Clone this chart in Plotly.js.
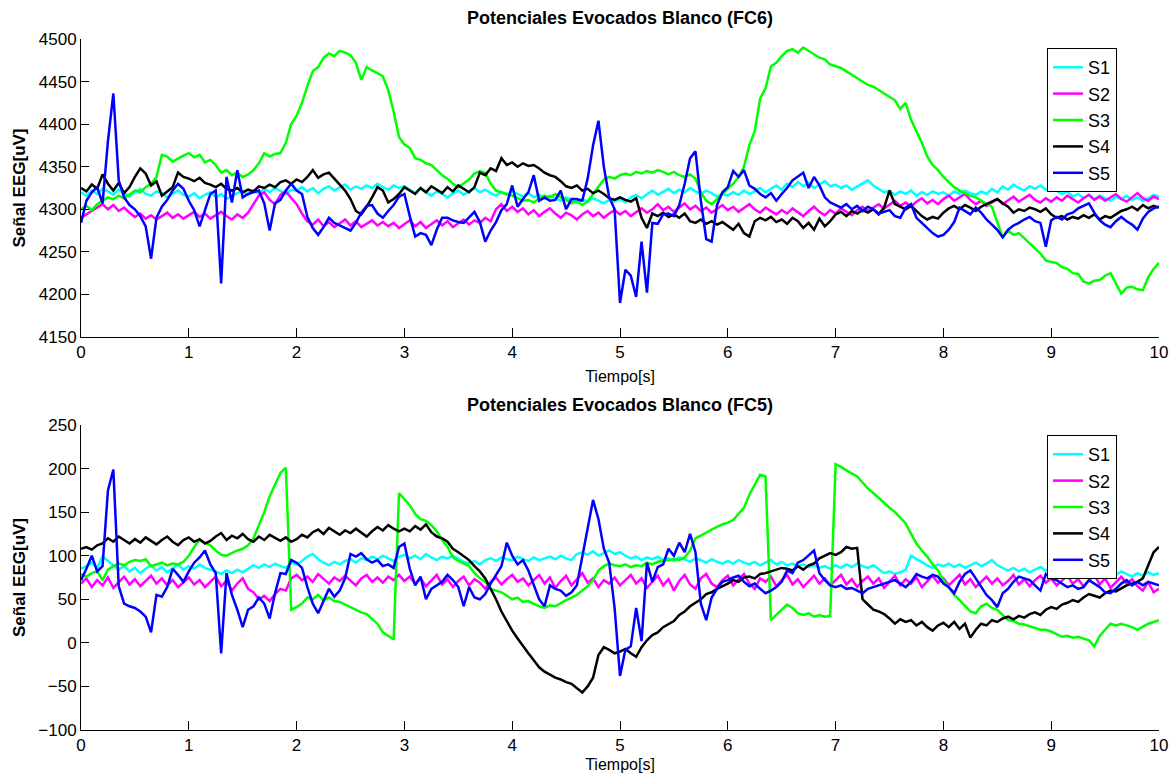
<!DOCTYPE html>
<html><head><meta charset="utf-8">
<script src="https://cdn.plot.ly/plotly-3.0.1.min.js"></script>
<style>html,body{margin:0;padding:0;background:#fff}#chart{width:1175px;height:782px}</style>
</head><body><div id="chart"></div>
<script>
const seriesNames = ['S1','S2','S3','S4','S5'];
const seriesColors = ['#00ffff','#ff00ff','#00ff00','#000000','#0000ff'];
const dt = 0.05; // sampling step of the stored series [s]
const xTicks = [0,1,2,3,4,5,6,7,8,9,10];
const fc6Ticks = [4150,4200,4250,4300,4350,4400,4450,4500];
const fc5Ticks = [-100,-50,0,50,100,150,200,250];
const titleFC6 = 'Potenciales Evocados Blanco (FC6)';
const titleFC5 = 'Potenciales Evocados Blanco (FC5)';
const xTitle = 'Tiempo[s]';
const yTitle = 'Señal EEG[uV]';

// ---- FC6 (top) ----
const fc6_S1 = [
4320,4316,4322,4318,4324,4321,4317,4323,4319,4315,4320,4324,4318,4316,4321,4319,4314,4318,4322,4317,
4315,4319,4313,4317,4320,4314,4318,4312,4316,4319,4321,4317,4322,4319,4324,4320,4325,4321,4318,4323,
4322,4326,4321,4325,4319,4324,4327,4322,4326,4329,4323,4327,4324,4328,4325,4330,4326,4323,4328,4325,
4327,4323,4319,4324,4320,4316,4321,4318,4314,4319,4322,4317,4321,4325,4320,4323,4319,4316,4320,4317,
4321,4318,4315,4319,4314,4317,4312,4316,4313,4310,4314,4311,4308,4312,4309,4313,4310,4307,4311,4309,
4312,4308,4314,4317,4313,4318,4322,4317,4321,4324,4319,4323,4320,4325,4321,4318,4322,4319,4315,4318,
4316,4320,4317,4322,4318,4321,4325,4320,4324,4328,4323,4330,4326,4332,4327,4331,4325,4329,4333,4327,
4329,4325,4328,4323,4327,4331,4334,4328,4324,4320,4322,4317,4321,4318,4322,4316,4320,4317,4321,4318,
4320,4316,4321,4318,4322,4319,4317,4321,4318,4324,4320,4327,4323,4329,4325,4322,4327,4324,4328,4323,
4326,4322,4318,4321,4315,4318,4313,4317,4312,4316,4313,4310,4315,4312,4316,4311,4314,4310,4313,4317,
4315];
const fc6_S2 = [
4290,4294,4298,4302,4306,4300,4305,4298,4302,4296,4291,4295,4289,4293,4288,4292,4296,4290,4294,4289,
4293,4297,4291,4295,4289,4293,4297,4292,4288,4294,4290,4296,4306,4316,4320,4311,4306,4317,4321,4314,
4306,4295,4286,4282,4288,4280,4285,4279,4284,4288,4281,4286,4279,4283,4287,4281,4285,4280,4284,4278,
4283,4287,4280,4285,4278,4283,4287,4281,4286,4279,4284,4288,4282,4287,4284,4290,4286,4300,4306,4298,
4303,4297,4301,4294,4299,4292,4297,4301,4295,4290,4296,4293,4288,4294,4298,4292,4296,4290,4295,4299,
4294,4298,4292,4297,4301,4296,4300,4306,4299,4303,4297,4302,4307,4300,4304,4298,4302,4296,4300,4305,
4299,4303,4297,4301,4306,4300,4296,4302,4298,4294,4299,4295,4301,4297,4292,4298,4303,4297,4293,4299,
4295,4301,4297,4293,4299,4303,4298,4302,4306,4301,4305,4310,4304,4308,4303,4309,4313,4307,4311,4306,
4312,4316,4310,4314,4318,4311,4306,4310,4304,4308,4312,4306,4310,4315,4309,4313,4317,4311,4308,4313,
4309,4314,4310,4316,4312,4308,4313,4317,4311,4315,4310,4314,4318,4312,4309,4314,4319,4313,4310,4315,
4312];
const fc6_S3 = [
4300,4304,4299,4306,4310,4314,4312,4316,4313,4318,4322,4320,4326,4330,4338,4364,4362,4356,4360,4363,
4366,4361,4364,4355,4358,4352,4343,4346,4340,4343,4338,4341,4346,4354,4366,4362,4365,4366,4378,4400,
4410,4425,4445,4462,4467,4478,4483,4480,4486,4484,4481,4472,4452,4467,4463,4460,4456,4440,4415,4385,
4376,4372,4360,4358,4354,4352,4346,4340,4336,4330,4326,4330,4335,4342,4345,4343,4330,4322,4320,4318,
4316,4313,4310,4311,4308,4313,4316,4314,4318,4314,4311,4307,4310,4305,4309,4318,4326,4335,4338,4336,
4340,4342,4340,4344,4342,4345,4343,4346,4344,4341,4344,4340,4338,4341,4336,4320,4310,4306,4312,4318,
4324,4330,4338,4350,4375,4392,4430,4442,4468,4472,4480,4486,4488,4484,4490,4486,4482,4478,4476,4470,
4468,4466,4462,4458,4455,4450,4446,4444,4440,4436,4432,4428,4418,4425,4405,4392,4378,4362,4352,4346,
4338,4332,4326,4322,4319,4316,4314,4310,4306,4303,4285,4267,4275,4270,4272,4266,4260,4255,4248,4240,
4238,4237,4232,4230,4225,4224,4215,4213,4216,4217,4222,4225,4212,4201,4208,4209,4206,4205,4220,4230,
4237];
const fc6_S4 = [
4325,4321,4329,4324,4341,4330,4322,4331,4319,4326,4338,4348,4342,4328,4333,4316,4321,4326,4343,4338,
4336,4333,4337,4331,4329,4326,4330,4324,4322,4325,4320,4323,4321,4327,4325,4329,4326,4332,4334,4330,
4335,4332,4338,4346,4337,4341,4343,4336,4330,4322,4312,4298,4294,4303,4314,4326,4322,4308,4312,4318,
4326,4322,4318,4325,4320,4327,4323,4319,4326,4321,4328,4324,4320,4326,4343,4340,4348,4345,4360,4352,
4355,4350,4354,4351,4352,4348,4343,4340,4338,4333,4327,4325,4328,4322,4324,4319,4322,4318,4313,4311,
4314,4311,4309,4313,4290,4278,4295,4292,4296,4291,4294,4290,4295,4286,4284,4288,4283,4286,4282,4285,
4280,4276,4283,4272,4268,4286,4290,4287,4291,4285,4288,4283,4290,4286,4278,4284,4276,4289,4280,4286,
4294,4297,4292,4298,4295,4299,4296,4300,4294,4302,4322,4306,4303,4300,4304,4298,4292,4288,4291,4289,
4296,4301,4304,4300,4305,4302,4298,4303,4306,4309,4312,4307,4303,4296,4300,4298,4302,4300,4297,4301,
4294,4290,4292,4288,4291,4289,4293,4290,4294,4288,4292,4290,4294,4298,4300,4303,4299,4305,4301,4304,
4302];
const fc6_S5 = [
4284,4310,4320,4326,4307,4380,4436,4334,4314,4305,4300,4292,4280,4242,4290,4303,4311,4322,4330,4324,
4310,4299,4280,4300,4318,4322,4213,4338,4308,4346,4314,4318,4320,4322,4307,4275,4307,4311,4322,4330,
4322,4318,4291,4278,4270,4279,4290,4284,4281,4278,4275,4284,4296,4304,4305,4295,4290,4298,4305,4315,
4318,4292,4268,4272,4270,4258,4276,4290,4290,4287,4285,4284,4290,4297,4285,4262,4275,4285,4299,4306,
4328,4303,4312,4320,4340,4310,4314,4310,4311,4322,4300,4312,4312,4310,4336,4375,4404,4350,4314,4300,
4190,4229,4222,4197,4262,4202,4284,4283,4294,4295,4292,4305,4330,4360,4368,4310,4265,4262,4305,4320,
4326,4345,4338,4346,4328,4324,4318,4314,4319,4310,4318,4325,4334,4338,4343,4325,4338,4328,4314,4308,
4305,4302,4306,4300,4304,4298,4303,4300,4295,4297,4299,4292,4290,4302,4306,4290,4284,4278,4272,4268,
4270,4276,4285,4302,4298,4294,4302,4296,4288,4282,4276,4267,4276,4281,4284,4288,4291,4286,4284,4256,
4287,4291,4288,4294,4296,4301,4304,4307,4296,4287,4282,4279,4286,4291,4286,4282,4276,4289,4297,4301,
4303];

// ---- FC5 (bottom) ----
const fc5_S1 = [
85,88,92,86,99,94,90,84,88,82,86,80,85,89,83,87,81,86,90,84,
88,85,90,86,84,82,79,83,80,84,81,85,89,86,90,87,91,88,86,92,
90,94,99,102,96,92,89,93,90,94,96,92,97,95,99,96,100,97,94,99,
101,97,100,96,102,98,95,99,97,100,96,93,91,94,90,95,97,94,98,96,
95,99,96,94,98,95,97,99,96,100,97,95,102,104,101,105,100,103,106,102,
104,100,97,99,95,98,96,99,95,97,94,98,96,93,97,95,92,96,93,91,
94,91,95,92,90,93,89,92,95,90,93,89,91,88,90,87,89,86,88,85,
89,86,90,87,91,88,86,89,84,80,82,79,81,84,100,96,92,89,86,90,
88,91,87,90,86,89,92,88,91,95,89,86,83,86,82,85,81,84,87,83,
85,82,86,80,84,81,78,82,79,83,77,80,78,82,79,76,80,77,81,78,
80];
const fc5_S2 = [
68,74,64,72,66,75,63,70,76,67,73,65,71,77,68,74,66,72,64,70,
75,67,72,64,70,76,65,71,60,68,74,62,58,50,54,48,56,62,60,74,
78,72,76,70,79,73,68,75,71,77,72,66,74,78,70,75,69,76,72,78,
71,76,68,74,65,72,78,67,73,64,71,76,66,73,69,62,70,75,67,73,
78,70,74,66,72,78,68,75,63,71,77,66,73,80,69,74,64,72,68,75,
66,72,78,68,74,63,70,77,66,73,60,71,78,67,62,74,79,68,64,72,
77,66,73,79,68,62,74,70,76,65,72,78,67,73,64,71,77,68,74,66,
72,78,67,73,64,71,76,68,74,63,70,77,66,73,68,75,64,71,77,69,
74,66,72,78,67,73,64,70,76,68,74,66,71,78,67,73,65,72,77,69,
74,66,71,77,68,73,65,72,78,67,74,63,70,76,68,73,65,60,70,58,
62];
const fc5_S3 = [
79,76,80,82,72,84,88,91,89,93,95,94,96,88,90,92,89,91,90,93,
100,110,118,115,112,106,101,100,103,106,108,112,120,135,150,168,182,195,201,38,
41,45,52,50,55,49,52,48,47,44,41,38,35,33,27,22,12,8,4,172,
165,158,148,142,140,135,128,118,110,98,94,91,88,80,74,70,62,60,58,54,
50,52,47,48,45,42,40,43,42,46,49,52,55,60,65,72,83,88,91,89,
88,90,87,89,88,92,90,93,94,95,96,95,98,106,120,123,127,130,133,136,
138,141,148,155,170,182,193,191,26,32,38,44,40,34,32,34,30,32,30,31,
205,202,198,194,191,184,177,172,166,160,155,150,144,137,125,114,106,99,90,83,
72,64,55,49,42,36,34,42,45,40,38,32,26,25,22,21,19,17,15,15,
13,10,7,8,6,7,5,3,-4,8,15,22,20,22,20,18,15,19,22,24,
26];
const fc5_S4 = [
108,110,107,112,114,120,116,122,118,114,119,115,121,117,113,118,122,116,112,118,
121,116,119,114,117,122,126,118,123,120,125,119,116,122,118,124,120,117,121,116,
119,124,121,127,130,125,132,128,124,129,126,131,127,122,128,133,129,135,131,128,
131,128,134,130,136,127,122,120,116,108,104,99,95,88,82,74,62,50,36,25,
14,5,-4,-12,-20,-28,-33,-37,-40,-42,-45,-47,-52,-57,-50,-40,-14,-5,-8,-12,
-10,-7,-12,-16,-5,3,9,12,18,22,25,32,36,42,46,50,56,58,62,65,
68,72,70,75,76,74,79,80,82,84,86,85,83,88,84,89,91,97,100,103,
101,104,110,108,109,50,44,38,36,33,28,22,27,24,26,20,24,18,14,20,
23,18,24,16,22,6,15,22,20,26,24,28,30,27,31,29,33,35,32,38,
41,39,44,46,49,47,52,56,54,52,57,60,59,63,66,68,70,74,90,104,
110];
const fc5_S5 = [
72,85,100,82,88,175,199,65,45,42,40,36,30,12,55,53,64,85,78,70,
82,92,98,106,90,80,-12,80,55,38,18,38,42,52,45,28,57,80,79,95,
92,86,64,45,34,48,62,53,60,74,102,99,103,96,92,95,88,90,86,110,
114,85,66,76,50,62,66,70,78,72,64,42,64,52,50,56,68,78,88,115,
100,90,95,83,66,50,42,66,62,60,54,58,66,100,130,164,142,108,92,40,
-38,-8,-4,40,2,92,70,87,90,108,100,115,104,125,104,45,26,52,62,70,
72,75,77,70,65,68,62,57,60,64,70,83,80,92,95,100,106,80,72,66,
64,66,62,63,60,57,62,64,66,68,70,72,68,64,70,79,76,74,78,76,
68,64,57,70,79,83,74,64,55,49,41,57,62,70,76,74,72,66,60,79,
74,72,68,64,66,62,64,72,68,64,58,57,62,68,72,66,70,66,70,68,
66];

const fc6 = [fc6_S1, fc6_S2, fc6_S3, fc6_S4, fc6_S5];
const fc5 = [fc5_S1, fc5_S2, fc5_S3, fc5_S4, fc5_S5];
const t = fc6_S1.map((_, i) => Math.round(i * dt * 100) / 100);

const traces = [];
fc6.forEach((ys, i) => traces.push({
  type: 'scatter', mode: 'lines', x: t, y: ys, name: seriesNames[i],
  xaxis: 'x', yaxis: 'y', legend: 'legend',
  line: {color: seriesColors[i], width: 2.5}
}));
fc5.forEach((ys, i) => traces.push({
  type: 'scatter', mode: 'lines', x: t, y: ys, name: seriesNames[i],
  xaxis: 'x2', yaxis: 'y2', legend: 'legend2',
  line: {color: seriesColors[i], width: 2.5}
}));

const FONT = 'Liberation Sans, Arial, Helvetica, sans-serif';
const W = 1175, H = 782;
const xDom = [81 / W, 1159 / W];
const topDom = [1 - 337 / H, 1 - 39 / H];
const botDom = [1 - 730 / H, 1 - 425 / H];

function xAxis(anchor, standoff) {
  return {
    domain: xDom, anchor: anchor, range: [0, 10], tickvals: xTicks,
    ticks: 'inside', ticklen: 9, tickcolor: '#000', tickwidth: 1,
    showline: true, linecolor: '#000', linewidth: 1, mirror: false,
    showgrid: false, zeroline: false,
    tickfont: {family: FONT, size: 17, color: '#000'},
    title: {text: xTitle, standoff: standoff, font: {family: FONT, size: 16, color: '#000'}}
  };
}
function yAxis(anchor, dom, range, ticks) {
  return {
    domain: dom, anchor: anchor, range: range, tickvals: ticks,
    ticks: 'inside', ticklen: 8, tickcolor: '#000', tickwidth: 1,
    showline: true, linecolor: '#000', linewidth: 1, mirror: false,
    showgrid: false, zeroline: false,
    tickfont: {family: FONT, size: 17, color: '#000'},
    title: {text: yTitle, standoff: 8, font: {family: FONT, size: 17, color: '#000', weight: 'bold'}}
  };
}
function legendBox(yTop) {
  return {
    x: 1047 / W, y: yTop, xanchor: 'left', yanchor: 'top',
    bgcolor: '#fff', bordercolor: '#000', borderwidth: 1,
    font: {family: FONT, size: 18, color: '#000'},
    tracegroupgap: 0
  };
}

const layout = {
  width: W, height: H,
  margin: {l: 0, r: 0, t: 0, b: 0},
  paper_bgcolor: '#fff', plot_bgcolor: '#fff',
  font: {family: FONT, size: 16, color: '#000'},
  showlegend: true,
  xaxis: xAxis('y', 9),
  yaxis: yAxis('x', topDom, [4150, 4500], fc6Ticks),
  xaxis2: xAxis('y2', 4),
  yaxis2: yAxis('x2', botDom, [-100, 250], fc5Ticks),
  legend: legendBox(1 - 48 / H),
  legend2: legendBox(1 - 435 / H),
  annotations: [
    {text: titleFC6, xref: 'paper', yref: 'paper', x: 620 / W, y: 1 - 18 / H,
     xanchor: 'center', yanchor: 'middle', showarrow: false,
     font: {family: FONT, size: 18, color: '#000', weight: 'bold'}},
    {text: titleFC5, xref: 'paper', yref: 'paper', x: 620 / W, y: 1 - 405 / H,
     xanchor: 'center', yanchor: 'middle', showarrow: false,
     font: {family: FONT, size: 18, color: '#000', weight: 'bold'}}
  ]
};

Plotly.newPlot('chart', traces, layout, {displayModeBar: false, staticPlot: true});
</script>
</body></html>
